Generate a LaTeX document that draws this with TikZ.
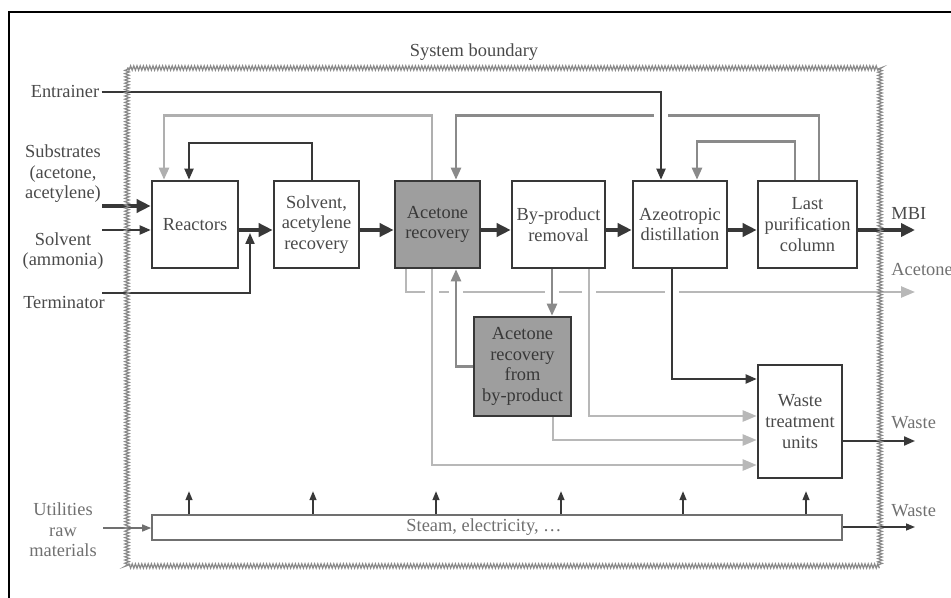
\documentclass[tikz,border=0pt]{standalone}
\usepackage{fontspec}
\setmainfont{Liberation Serif}
\usepackage{tikz}
\usetikzlibrary{arrows.meta}
\usetikzlibrary{decorations.pathmorphing}
\definecolor{ink}{HTML}{383838}
\definecolor{txt}{HTML}{4A4A4A}
\definecolor{soft}{HTML}{707070}
\definecolor{mid}{HTML}{8A8A8A}
\definecolor{pale}{HTML}{B8B8B8}
\definecolor{boxgrey}{HTML}{9E9E9E}

\begin{document}
\begin{tikzpicture}[x=0.5pt,y=-0.5pt,font=\fontsize{9.2}{10.3}\selectfont,text=txt,
  box/.style={draw=ink,line width=1.3pt,fill=white,align=center,inner sep=1pt,minimum height=43.5pt},
  shaded/.style={box,fill=boxgrey,text=ink},
  lbl/.style={align=center,inner sep=1pt},
  flow/.style={draw=ink,line width=2pt,-{Triangle[length=7pt,width=6.5pt]}},
  feed/.style={draw=ink,line width=1pt,-{Triangle[length=5.5pt,width=4.5pt]}},
  recyc/.style={draw=mid,line width=1.2pt,-{Triangle[length=6pt,width=5pt]}},
  faint/.style={draw=pale,line width=1.2pt,-{Triangle[length=7pt,width=5.5pt]}},
  util/.style={draw=ink,line width=0.7pt,-{Triangle[length=4.5pt,width=3.5pt]}},
  gap/.style={preaction={draw=white,line width=7pt,-,line cap=butt}},
  bound/.style={draw=mid,line width=0.6pt,decorate,decoration={zigzag,segment length=1.6pt,amplitude=1.1pt}}]
  \useasboundingbox (0,0) rectangle (951,598);
  \draw[black,line width=1pt] (9,598) -- (9,12) -- (951,12);

  %boxes
  \node[box,minimum width=43pt] (reac) at (195,224.5) {Reactors};
  \node[box,minimum width=42.5pt] (solv) at (316.5,224.5) {Solvent,\\acetylene\\recovery};
  \node[shaded,minimum width=42.5pt] (acrec) at (437.5,224.5) {Acetone\\recovery};
  \node[box,minimum width=46.5pt] (byp) at (558.5,224.5) {By-product\\removal};
  \node[box,minimum width=47pt] (azeo) at (680,224.5) {Azeotropic\\distillation};
  \node[box,minimum width=49.5pt] (last) at (807.5,224.5) {Last\\purification\\column};
  \node[shaded,minimum width=48.5pt,minimum height=49.5pt] (arbp) at (522.5,366.5) {Acetone\\recovery\\from\\by-product};
  \node[box,minimum width=42pt,minimum height=56.5pt] (waste) at (800,421.5) {Waste\\treatment\\units};
  \node[box,draw=soft,line width=0.8pt,minimum width=345pt,minimum height=12.5pt,
    label={[xshift=-6.5pt,text=soft]center:{Steam, electricity, \dots}}] (steam) at (497,527.5) {};

  %labels
  \node[lbl] (sysb) at (474,52) {System boundary};
  \node[lbl] (entr) at (65,92) {Entrainer};
  \node[lbl] (subs) at (63,174) {Substrates\\(acetone,\\acetylene)};
  \node[lbl] (solvin) at (63,251) {Solvent\\(ammonia)};
  \node[lbl] (term) at (64,302) {Terminator};
  \node[lbl,text=soft] (util) at (63,530) {Utilities\\raw\\materials};
  \node[lbl,anchor=west] (mbi) at (889,214) {MBI};
  \node[lbl,anchor=west,text=soft] (acout) at (889,270) {Acetone};
  \node[lbl,anchor=west,text=soft] (wout) at (889,423) {Waste};
  \node[lbl,anchor=west,text=soft] (wutil) at (889,511) {Waste};

  \coordinate (fl) at (0,230);
  \coordinate (subspt) at (102,206);
  \coordinate (solvpt) at (102,230);
  \coordinate (termpt) at (102,293);
  \coordinate (termtip) at (250,233);
  \coordinate (utilpt) at (103,528);
  \coordinate (mbitip) at (915,230);
  \coordinate (actip) at (915,292);
  \coordinate (wtip) at (915,441);
  \coordinate (wutiltip) at (915,527);

  %feeds
  \draw[flow] (subspt) -- (reac.west |- subspt);
  \draw[feed] (solvpt) -- (reac.west |- solvpt);
  \draw[feed] (termpt) -| (termtip);

  %main line
  \draw[flow] (reac.east |- fl) -- (solv.west |- fl);
  \draw[flow] (solv.east |- fl) -- (acrec.west |- fl);
  \draw[flow] (acrec.east |- fl) -- (byp.west |- fl);
  \draw[flow] (byp.east |- fl) -- (azeo.west |- fl);
  \draw[flow] (azeo.east |- fl) -- (last.west |- fl);
  \draw[flow] (last.east |- fl) -- (mbitip);

  %recycles above
  \draw[feed] (solv.north -| 312,0) -- ++(0,-37) -| (reac.north -| 189,0);
  \draw[recyc,draw=pale!80!mid] (acrec.north -| 432,0) -- ++(0,-64) -| (reac.north -| 164,0);
  \draw[recyc] (last.north -| 819,0) -- ++(0,-64) -| (acrec.north -| 456,0);
  \draw[recyc] (last.north -| 795,0) -- ++(0,-38) -| (azeo.north -| 697,0);
  \draw[feed,gap] (entr.east) -| (azeo.north -| 661,0);

  %below
  \draw[faint] (acrec.south -| 406,0) |- (actip);
  \draw[faint,gap] (acrec.south -| 432,0) |- (waste.west |- 0,465);
  \draw[recyc,gap] (arbp.west) -| (acrec.south -| 456,0);
  \draw[recyc,gap] (byp.south -| 552,0) -- (arbp.north -| 552,0);
  \draw[faint,gap] (byp.south -| 589,0) |- (waste.west |- 0,416);
  \draw[faint] (arbp.south -| 553,0) |- (waste.west |- 0,440);
  \draw[feed,gap] (azeo.south -| 672,0) |- (waste.west |- 0,379);
  \draw[feed] (waste.east |- wtip) -- (wtip);

  %utilities
  \draw[util,draw=soft] (utilpt) -- (steam.west |- utilpt);
  \foreach \x in {189,313,436,561,683,806}
    \draw[util] (steam.north -| \x,0) -- ++(0,-23);
  \draw[util] (steam.east |- wutiltip) -- (wutiltip);

  \draw[bound] (127,68) rectangle (880,566);
\end{tikzpicture}
\end{document}
